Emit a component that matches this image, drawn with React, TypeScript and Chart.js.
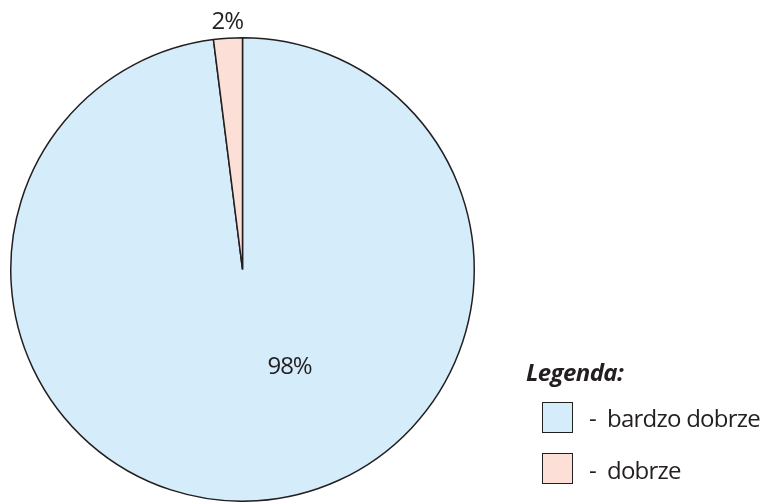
import React, { useEffect, useRef } from "react";
import { Chart, registerables } from "chart.js";

Chart.register(...registerables);

const categories = ["bardzo dobrze", "dobrze"];
const values = [98, 2];
const valueLabels = ["98%", "2%"];
const sliceColors = ["#D5EDFA", "#FCE0D7"];
const legendTitle = "Legenda:";

const FONT = "'Open Sans', sans-serif";
const INK = "#231F20";

const labelPlugin = {
  id: "sliceLabels",
  afterDatasetsDraw(chart: any) {
    const meta = chart.getDatasetMeta(0);
    const ctx = chart.ctx;
    ctx.save();
    ctx.fillStyle = INK;
    ctx.font = `24px ${FONT}`;
    try {
      (ctx as any).letterSpacing = "-1px";
    } catch (e) {}
    ctx.textAlign = "center";
    ctx.textBaseline = "alphabetic";
    meta.data.forEach((arc: any, i: number) => {
      const { x, y, outerRadius, startAngle, endAngle } = arc.getProps(
        ["x", "y", "outerRadius", "startAngle", "endAngle"],
        true
      );
      const mid = (startAngle + endAngle) / 2;
      let px: number, py: number;
      if (values[i] < 10) {
        const d = outerRadius + 9;
        px = x + Math.cos(mid) * d;
        py = y + Math.sin(mid) * d;
      } else {
        px = x + outerRadius * 0.203;
        py = y + outerRadius * 0.45;
      }
      ctx.fillText(valueLabels[i], px, py);
    });
    ctx.restore();
  },
};

export default function App() {
  const ref = useRef<HTMLCanvasElement>(null);
  useEffect(() => {
    if (!ref.current) return;
    const chart = new Chart(ref.current, {
      type: "pie",
      data: {
        labels: categories,
        datasets: [
          {
            data: values,
            backgroundColor: sliceColors,
            borderColor: INK,
            borderWidth: 1.5,
          },
        ],
      },
      options: {
        animation: false,
        responsive: false,
        layout: { padding: { top: 37, right: 279, left: 0, bottom: 0 } },
        plugins: {
          legend: { display: false },
          tooltip: { enabled: false },
        },
      },
      plugins: [labelPlugin],
    });
    return () => chart.destroy();
  }, []);

  return (
    <div style={{ position: "absolute", left: 0, top: 0, width: 764, height: 502, background: "#fff", fontFamily: FONT, overflow: "hidden" }}>
      <canvas ref={ref} width={764} height={502} style={{ width: 764, height: 502, display: "block" }} />
      <div
        style={{
          position: "absolute",
          left: 526,
          top: 360,
          fontSize: 24,
          fontWeight: 700,
          fontStyle: "italic",
          color: INK,
          lineHeight: "24px",
          letterSpacing: "-0.6px",
          whiteSpace: "nowrap",
        }}
      >
        {legendTitle}
      </div>
      {categories.map((c, i) => (
        <React.Fragment key={c}>
          <div
            style={{
              position: "absolute",
              left: 542,
              top: 402 + i * 51,
              width: 31,
              height: 31,
              border: `1.5px solid ${INK}`,
              background: sliceColors[i],
              boxSizing: "border-box",
            }}
          />
          <div
            style={{
              position: "absolute",
              left: 589,
              top: 406 + i * 52,
              color: INK,
              fontSize: 24,
              lineHeight: "24px",
              letterSpacing: "-0.75px",
              whiteSpace: "nowrap",
            }}
          >
            {"-\u00a0\u00a0" + c}
          </div>
        </React.Fragment>
      ))}
    </div>
  );
}
